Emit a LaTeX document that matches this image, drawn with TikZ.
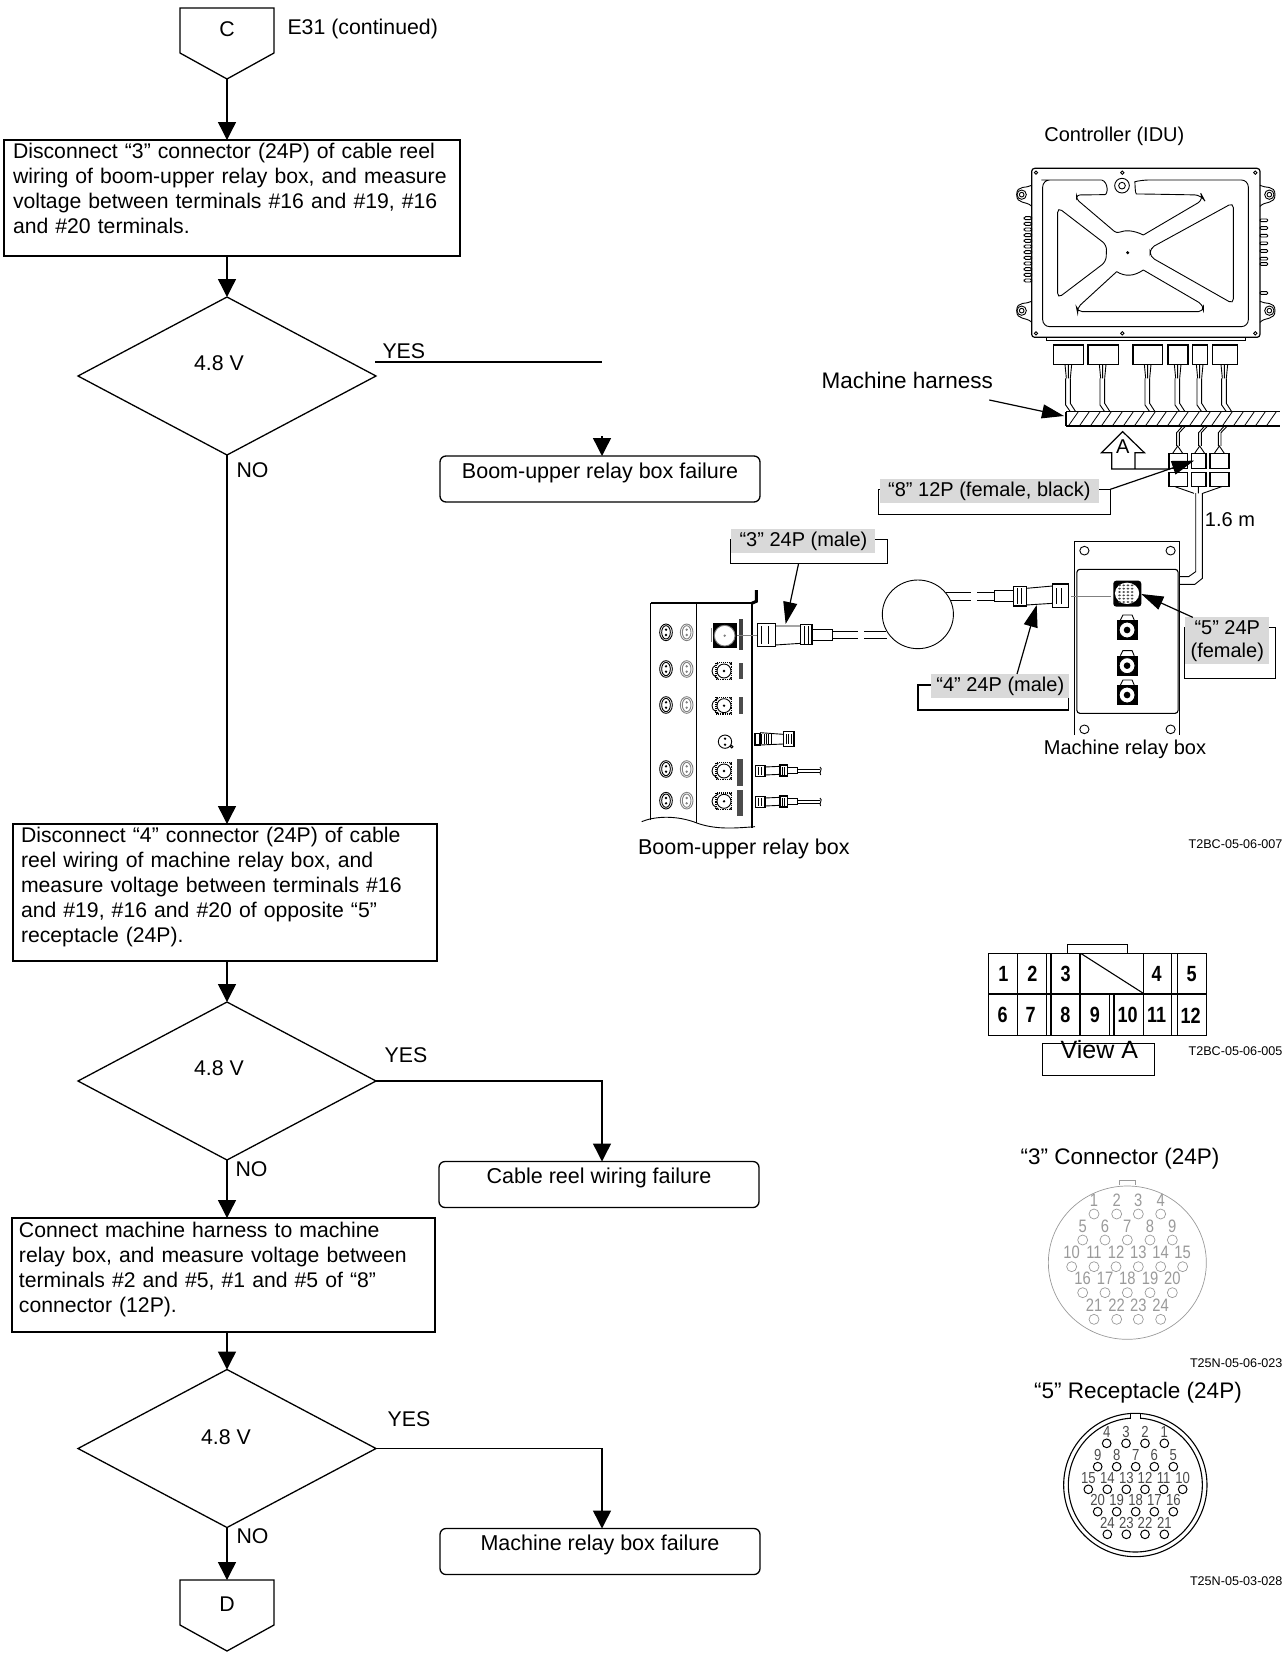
\documentclass[tikz,border=0pt]{standalone}
\usepackage{fontspec}
\setmainfont{Liberation Sans}
\usetikzlibrary{calc,positioning,shapes.geometric,arrows.meta}
\definecolor{ink}{HTML}{000000}
\definecolor{labelgray}{HTML}{D9D9D9}
\definecolor{pingray}{HTML}{9A9A9A}
\tikzset{
  flow/.style={ink,line width=1.4pt,-{Triangle[length=18pt,width=18pt]}},
  stepbox/.style={draw=ink,line width=1.3pt,align=left,anchor=north,inner ysep=0pt,outer sep=0pt,font=\fontsize{21.2}{25}\selectfont},
  endbox/.style={draw=ink,line width=1.3pt,rounded corners=6pt,minimum width=320pt,inner sep=0pt,outer sep=0pt,
    text height=22pt,text depth=24pt,font=\fontsize{21.5}{25}\selectfont},
  voltcheck/.style={draw=ink,line width=1.3pt,diamond,aspect=1.9,inner sep=0pt,outer sep=0pt,minimum width=298pt,minimum height=158pt},
  offpage/.style={minimum width=94pt,minimum height=71pt,inner sep=0pt,outer sep=0pt},
  flowtext/.style={font=\fontsize{21.3}{25}\selectfont},
  notetext/.style={font=\fontsize{20}{23}\selectfont},
  headtext/.style={font=\fontsize{22.5}{25}\selectfont},
  partcode/.style={font=\fontsize{12.6}{14}\selectfont,anchor=east},
  graylabel/.style={fill=labelgray,inner sep=0pt,align=center,font=\fontsize{20}{23}\selectfont},
  frame/.style={draw=ink,line width=1.2pt,inner sep=0pt},
  leader/.style={ink,line width=1.2pt,-{Triangle[length=22pt,width=14pt]}},
  zoomA/.style={xshift=800pt,yshift=-120pt,x=0.33333pt,y=-0.33333pt},
  zoomB/.style={xshift=630pt,yshift=-520pt,x=0.41841pt,y=-0.33333pt},
  zoomC/.style={xshift=960pt,yshift=-930pt,x=0.33333pt,y=-0.33333pt},
  zoomD/.style={xshift=1010pt,yshift=-1130pt,x=0.33333pt,y=-0.33333pt},
  zoomE/.style={xshift=1030pt,yshift=-1380pt,x=0.33333pt,y=-0.33333pt},
  zoomF/.style={xshift=640pt,yshift=-590pt,x=0.33333pt,y=-0.33333pt},
}
\newcommand{\offpagepath}[1]{\draw[ink,line width=1.3pt] (#1.north west) -- (#1.north east) -- ++(0,45) -- (#1.south) -- ($(#1.north west)+(0,45)$) -- cycle;}
\newcommand{\narrowpin}[1]{\scalebox{0.82}[1]{#1}}
\begin{document}
\begin{tikzpicture}[x=1pt,y=-1pt,font=\fontsize{21}{25}\selectfont]
  \useasboundingbox (0,0) rectangle (1286,1654);
  % flow chart
  \node[offpage] (offC) at (227,43.5) {};
  \offpagepath{offC}
  \node[flowtext] (letterC) at (227,29) {C};
  \node[flowtext,anchor=west] (e31) at (284,29) {E31 (continued)};
  \node[stepbox,text width=438pt,inner xsep=9pt,text height=18pt,text depth=98pt] (check1) at (232,140)
    {Disconnect “3” connector (24P) of cable reel\\wiring of boom-upper relay box, and measure\\voltage between terminals \#16 and \#19, \#16\\and \#20 terminals.};
  \node[voltcheck] (volt1) at (227,376) {};
  \node[flowtext] (volt1text) at (219,363) {4.8 V};
  \node[endbox] (fail1) at (600,479) {Boom-upper relay box failure};
  \node[stepbox,text width=408pt,inner xsep=8pt,text height=18pt,text depth=119pt] (check2) at (225,824)
    {Disconnect “4” connector (24P) of cable\\reel wiring of machine relay box, and\\measure voltage between terminals \#16\\and \#19, \#16 and \#20 of opposite “5”\\receptacle (24P).};
  \node[voltcheck] (volt2) at (227,1081) {};
  \node[flowtext] (volt2text) at (219,1068) {4.8 V};
  \node[endbox] (fail2) at (599,1184.5) {Cable reel wiring failure};
  \node[stepbox,text width=409pt,inner xsep=7pt,text height=19pt,text depth=95pt] (check3) at (223.5,1218)
    {Connect machine harness to machine\\relay box, and measure voltage between\\terminals \#2 and \#5, \#1 and \#5 of “8”\\connector (12P).};
  \node[voltcheck] (volt3) at (227,1448.5) {};
  \node[flowtext] (volt3text) at (226,1437) {4.8 V};
  \node[endbox] (fail3) at (600,1551.5) {Machine relay box failure};
  \node[offpage] (offD) at (227,1615.5) {};
  \offpagepath{offD}
  \node[flowtext] (letterD) at (227,1604) {D};
  % yes and no
  \node[flowtext,anchor=west] (yes1) at (379,351) {YES};
  \node[flowtext,anchor=west] (no1) at (233,470) {NO};
  \node[flowtext] (yes2) at (406,1055) {YES};
  \node[flowtext,anchor=west] (no2) at (232,1169) {NO};
  \node[flowtext] (yes3) at (409,1419) {YES};
  \node[flowtext,anchor=west] (no3) at (233,1536) {NO};
  % connectors
  \coordinate (yes1a) at (375,362);
  \coordinate (yes1b) at (602,362);
  \coordinate (fail1top) at (602,436);
  \draw[flow] (offC.south) -- (offC.south |- check1.north);
  \draw[flow] (volt1.north |- check1.south) -- (volt1.north);
  \draw[ink,line width=1.4pt] (yes1a) -- (yes1b);
  \draw[flow] (fail1top) -- (fail1top |- fail1.north);
  \draw[flow] (volt1.south) -- (volt1.south |- check2.north);
  \draw[flow] (volt2.north |- check2.south) -- (volt2.north);
  \draw[flow] (volt2.east) -| (fail2.north -| fail1top);
  \draw[flow] (volt2.south) -- (volt2.south |- check3.north);
  \draw[flow] (volt3.north |- check3.south) -- (volt3.north);
  \draw[flow] (volt3.east) -| (fail3.north -| fail1top);
  \draw[flow] (volt3.south) -- (offD.north);
  % controller
  \begin{scope}[zoomA,line width=0.9pt,ink]
    \node[notetext] (idu) at (943,50) {Controller (IDU)};
    \draw[line width=1.2pt,rounded corners=3pt] (695,145) rectangle (1380,652);
    \draw (738,652) -- (738,662) -- (1336,662) -- (1336,652);
    \foreach \x/\y in {708/158,967/158,1366/158,708/640,967/640,1366/640}
      \draw (\x,\y) circle [radius=5];
    \draw (966,197) circle [radius=22] (966,197) circle [radius=10];
    \fill (983,398) circle [radius=5];
    \draw[rounded corners=7pt] (905,180) -- (745,180) -- (728,180) -- (728,620) -- (1345,620) -- (1345,180) -- (1025,180)
      .. controls (1005,185) and (1005,222) .. (1030,222) -- (1205,225) -- (1212,238) -- (1030,345);
    \draw[rounded corners=3pt] (905,180) .. controls (925,185) and (925,224) .. (905,224) -- (830,225) -- (830,238) -- (950,340)
      .. controls (975,330) and (1000,330) .. (1030,345);
    \draw[rounded corners=5pt] (1300,248) -- (1050,385) -- (1050,410) -- (1300,552) -- cycle;
    \draw[rounded corners=5pt] (773,262) -- (920,375) -- (918,425) -- (773,535) -- cycle;
    \draw[rounded corners=5pt] (950,455) -- (830,565) -- (832,575) -- (1210,575) -- (1210,555) -- (1030,450);
    \draw (950,455) .. controls (975,470) and (1000,470) .. (1030,450);
    % ears and fins
    \foreach \y in {224,572}{
      \draw (665,\y) circle [radius=14] (665,\y) circle [radius=7];
      \draw (695,\y-28) .. controls (680,\y-18) and (650,\y-30) .. (650,\y) .. controls (650,\y+30) and (680,\y+18) .. (695,\y+35);
      \draw (1408,\y) circle [radius=14] (1408,\y) circle [radius=7];
      \draw (1380,\y-28) .. controls (1395,\y-18) and (1425,\y-30) .. (1425,\y) .. controls (1425,\y+30) and (1395,\y+18) .. (1380,\y+35);
    }
    \foreach \y in {290,307,...,490}
      \draw[rounded corners=1.5pt] (672,\y) rectangle ++(23,9);
    \foreach \y in {297,320,343,366,389,412,428,515}
      \draw[rounded corners=1pt] (1380,\y) rectangle ++(23,8);
    % plugs on the harness
    \foreach \a/\b in {760/850,864/955,999/1088,1104/1164,1178/1222,1237/1312}
      \draw[line width=1.1pt] (\a,675) rectangle (\b,733);
    \foreach \x in {805,908,1043,1133,1199,1273}{
      \draw (\x-10,733) -- (\x-6,775) (\x+10,733) -- (\x+6,775) (\x,733) -- (\x,775);
      \draw (\x-8,775) -- (\x-8,855) -- (\x+6,875) (\x+6,775) -- (\x+6,850) -- (\x+22,875);
    }
    \draw[line width=1.1pt] (798,875) -- (1440,875) (798,918) -- (1440,918) (798,875) -- (798,918);
    \foreach \x in {805,838,...,1420}
      \draw[line width=0.8pt] (\x,918) -- (\x+30,875);
    \foreach \x in {1133,1199,1258}{
      \draw (\x+13,920) -- (\x-3,938) -- (\x-3,978) (\x+22,920) -- (\x+5,938) -- (\x+5,978);
      \draw (\x-15,1000) -- (\x,978) -- (\x+15,1000);
    }
    \foreach \a/\b in {1107/1163,1174/1218,1230/1287}{
      \draw[line width=1.1pt] (\a,1000) rectangle (\b,1045);
      \draw[line width=1.1pt] (\a,1057) rectangle (\b,1100);
    }
    \draw (1125,1100) -- (1182,1120) (1265,1100) -- (1208,1120) (1195,1100) -- (1195,1120);
    % view mark
    \fill[white] (935,998) rectangle (1005,1047);
    \draw[line width=1.2pt] (1005,1045) -- (1005,998) -- (1033,998) -- (968,935) -- (905,998) -- (935,998) -- (935,1047) -- (1110,1047);
    \node[notetext] (markA) at (968,980) {A};
    % callout and note
    \node[frame,minimum width=232pt,minimum height=25pt] (frame8) at (583.5,1145.5) {};
    \node[graylabel,minimum width=219pt,minimum height=23.5pt] (label8) at (568,1113) {“8” 12P (female, black)};
    \coordinate (from8) at (931,1108);
    \coordinate (tip8) at (1182,1022);
    \draw[leader] (from8) -- (tip8);
    \node[font=\fontsize{22.5}{25}\selectfont] (harness) at (322,782) {Machine harness};
    \coordinate (fromh) at (568,840);
    \coordinate (tiph) at (792,888);
    \draw[leader] (fromh) -- (tiph);
    \node[notetext] (cablelen) at (1290,1200) {1.6 m};
  \end{scope}
  % machine relay box
  \begin{scope}[zoomB,line width=0.9pt,ink]
    \draw (1352,-81) -- (1352,155) -- (1335,170) -- (1313,170);
    \draw (1368,-81) -- (1368,175) -- (1350,193) -- (1313,193);
    \draw[line width=1.1pt] (1063,645) -- (1063,65) -- (1313,65) -- (1313,645);
    \draw[line width=1.1pt,rounded corners=3pt] (1068,148) rectangle (1310,580);
    \foreach \x/\y in {1086/92,1292/92,1086/628,1292/628}
      \draw (\x,\y) circle [x radius=11,y radius=13];
    \fill[rounded corners=3pt] (1155,182) rectangle (1222,260);
    \fill[white] (1188,220) circle [x radius=29,y radius=32];
    \foreach \y in {196,206,...,246}
      \foreach \x in {1170,1180,...,1208}
        \fill[black!70] (\x,\y) circle [x radius=3.5,y radius=3];
    \foreach \y in {330,437,525}{
      \fill (1165,\y-30) rectangle (1213,\y+30);
      \fill[white] (1188,\y) circle [x radius=19,y radius=24];
      \draw (1188,\y) circle [x radius=19,y radius=24];
      \fill (1188,\y) circle [x radius=8,y radius=10];
      \draw (1172,\y-30) -- (1178,\y-45) -- (1200,\y-45) -- (1205,\y-30);
    }
    \draw[gray,line width=0.8pt] (1055,228) -- (1150,228);
    % plug and coil
    \draw (688,283) circle [x radius=85,y radius=103];
    \draw (755,218) -- (815,218) (830,218) -- (870,218) (765,240) -- (815,240) (830,240) -- (870,240);
    \draw (870,210) rectangle (917,245);
    \draw (947,205) -- (1010,198) (947,255) -- (1010,250);
    \draw[line width=1.1pt] (917,200) rectangle (947,258) (1010,192) rectangle (1048,262);
    \foreach \x in {925,935,1020,1032}
      \draw (\x,205) -- (\x,252);
    % plug at the boom box
    \draw (235,345) -- (305,345);
    \draw[line width=1.1pt] (305,310) rectangle (347,380) (408,313) rectangle (435,373);
    \draw (347,318) -- (408,318) (347,375) -- (408,370);
    \draw (435,328) rectangle (485,360);
    \foreach \x in {315,330,418,427}
      \draw (\x,318) -- (\x,372);
    \draw (485,335) -- (545,335) (560,335) -- (612,335) (485,355) -- (545,355) (560,355) -- (615,355);
    % callouts
    \node[frame,minimum width=157pt,minimum height=24pt] (frame3) at (427.5,94) {};
    \node[graylabel,minimum width=144pt,minimum height=23.5pt] (label3) at (414.5,63) {“3” 24P (male)};
    \coordinate (from3) at (403,130);
    \coordinate (tip3) at (372,312);
    \draw[leader] (from3) -- (tip3);
    \node[frame,minimum width=150.5pt,minimum height=25pt] (frame4) at (868,532.5) {};
    \node[graylabel,minimum width=138pt,minimum height=23.5pt] (label4) at (885,497.5) {“4” 24P (male)};
    \coordinate (from4) at (925,462);
    \coordinate (tip4) at (972,255);
    \draw[leader] (from4) -- (tip4);
    \node[frame,minimum width=91pt,minimum height=51pt] (frame5) at (1433.5,398.5) {};
    \node[graylabel,minimum width=84pt,minimum height=47pt] (label5) at (1427.5,362) {“5” 24P\\(female)};
    \coordinate (from5) at (1345,292);
    \coordinate (tip5) at (1222,222);
    \draw[leader] (from5) -- (tip5);
    \node[notetext] (relaytext) at (1183,688) {Machine relay box};
    \node[font=\fontsize{21.5}{25}\selectfont] (boomtext) at (272,987) {Boom-upper relay box};
  \end{scope}
  % boom box
  \begin{scope}[zoomF,line width=0.9pt,ink]
    \draw (32,690) -- (32,40) (170,40) -- (170,700);
    \draw[line width=1.8pt] (32,40) -- (335,40);
    \draw[line width=2pt] (335,40) -- (335,715);
    \draw[line width=3pt] (335,40) -- (349,34) -- (349,0);
    \draw (5,695) .. controls (40,680) and (100,675) .. (160,695) .. controls (220,720) and (280,715) .. (345,710);
    \foreach \y in {127,237,345,537,632}
      \foreach \x/\k in {78/black,140/gray}{
        \draw[\k] (\x,\y) circle [x radius=19,y radius=25];
        \draw[\k] (\x,\y) circle [x radius=13,y radius=20];
        \fill[\k] (\x,\y-8) circle [radius=4] (\x,\y+8) circle [radius=4];
      }
    \fill (218,100) rectangle (290,175);
    \fill[white] (254,137) circle [radius=31];
    \draw[gray] (254,137) circle [radius=31];
    \fill[gray] (254,137) circle [radius=4];
    \draw[gray,line width=0.7pt] (214,115) -- (214,155);
    \fill[black!75] (296,88) rectangle (310,180);
    \draw[gray] (290,135) -- (350,135);
    \foreach \y in {243,347,543,634}{
      \draw[line width=1.1pt,densely dotted] (228,\y-25) rectangle (275,\y+25);
      \draw (252,\y) circle [radius=21];
      \fill (252,\y) circle [radius=4];
      \draw (228,\y-18) .. controls (212,\y-12) and (212,\y+12) .. (228,\y+18);
      \fill (232,\y-22) circle [radius=3.5] (272,\y-22) circle [radius=3.5] (232,\y+22) circle [radius=3.5] (272,\y+22) circle [radius=3.5];
    }
    \foreach \y in {243,347}
      \fill[black!70] (296,\y-25) rectangle (308,\y+25);
    \foreach \y in {543,634}
      \fill[black!70] (290,\y-35) rectangle (308,\y+45);
    \draw (255,455) circle [radius=20];
    \fill (255,446) circle [radius=4] (255,464) circle [radius=4];
    \draw (275,470) circle [radius=4];
    % spare plugs
    \draw[line width=1.1pt] (345,430) rectangle (360,465) (430,425) rectangle (462,470);
    \draw (360,428) -- (430,433) (360,465) -- (430,462);
    \foreach \x in {365,372,...,393,438,446,454}
      \draw (\x,432) -- (\x,462);
    \foreach \y in {543,636}{
      \draw[line width=1.1pt] (347,\y-17) rectangle (375,\y+17) (420,\y-18) rectangle (442,\y+15);
      \draw (375,\y-12) -- (420,\y-14) (375,\y+12) -- (420,\y+10);
      \draw (442,\y-10) rectangle (472,\y+8);
      \draw (472,\y-6) -- (540,\y-6) (472,\y+5) -- (540,\y+5);
      \draw (540,\y-12) .. controls (550,\y-6) and (535,\y+4) .. (542,\y+12);
      \foreach \x in {355,365,426,434}
        \draw (\x,\y-12) -- (\x,\y+12);
    }
  \end{scope}
  % view A
  \begin{scope}[zoomC,line width=1.1pt,ink]
    \draw (85,70) rectangle (740,316) (85,192) -- (740,192);
    \draw (323,70) -- (323,43) -- (502,43) -- (502,70);
    \foreach \x in {172,260,273,360,550,635,652}
      \draw (\x,70) -- (\x,316);
    \foreach \x in {448,462}
      \draw (\x,192) -- (\x,316);
    \draw (362,70) -- (550,190);
    \foreach \x/\n in {130/1,217/2,317/3,590/4,695/5}
      \node[font=\fontsize{22}{24}\selectfont\bfseries] at (\x,132) {\narrowpin{\n}};
    \foreach \x/\n in {128/6,212/7,316/8,405/9,503/10,590/11,692/12}
      \node[font=\fontsize{22}{24}\selectfont\bfseries] at (\x,256) {\narrowpin{\n}};
    \node[frame,minimum width=112pt,minimum height=32pt] (viewframe) at (416,388) {};
    \node[font=\fontsize{25}{27}\selectfont] (viewtext) at (418,358) {View A};
  \end{scope}
  % connector 3
  \begin{scope}[zoomD,line width=0.7pt,pingray]
    \node[headtext,text=ink] (conn3) at (330,85) {“3” Connector (24P)};
    \draw (352,398) circle [x radius=237,y radius=230];
    \draw (328,166) -- (328,152) -- (377,152) -- (377,166);
    \foreach \y/\list in {252/{252/1,320/2,385/3,452/4},330/{218/5,285/6,352/7,420/8,487/9},
                          410/{185/10,252/11,318/12,385/13,452/14,518/15},488/{218/16,285/17,352/18,420/19,487/20},
                          568/{252/21,320/22,385/23,452/24}}
      \foreach \x/\n in \list {
        \draw (\x,\y) circle [radius=15];
        \node[text=pingray,font=\fontsize{18}{20}\selectfont] at (\x,\y-42) {\narrowpin{\n}};
      }
  \end{scope}
  % receptacle 5
  \begin{scope}[zoomE,line width=1pt,ink]
    \node[headtext] (recep5) at (324,38) {“5” Receptacle (24P)};
    \draw[line width=1.1pt] (316,315) circle [radius=215] (316,315) circle [radius=201];
    \fill[white] (302,103) rectangle (332,118);
    \draw (302,102) -- (302,117) (332,102) -- (332,117);
    \foreach \y/\list in {190/{230/4,288/3,345/2,403/1},260/{203/9,260/8,317/7,373/6,430/5},
                          328/{175/15,232/14,289/13,345/12,401/11,458/10},395/{203/20,260/19,317/18,373/17,430/16},
                          463/{232/24,289/23,345/22,403/21}}
      \foreach \x/\n in \list {
        \draw (\x,\y) circle [radius=13];
        \node[text=black!70,font=\fontsize{16}{18}\selectfont] at (\x,\y-34) {\narrowpin{\n}};
      }
  \end{scope}
  % part codes
  \node[partcode] (code1) at (1286,844) {T2BC-05-06-007};
  \node[partcode] (code2) at (1286,1051) {T2BC-05-06-005};
  \node[partcode] (code3) at (1286,1363) {T25N-05-06-023};
  \node[partcode] (code4) at (1286,1581) {T25N-05-03-028};
\end{tikzpicture}
\end{document}
